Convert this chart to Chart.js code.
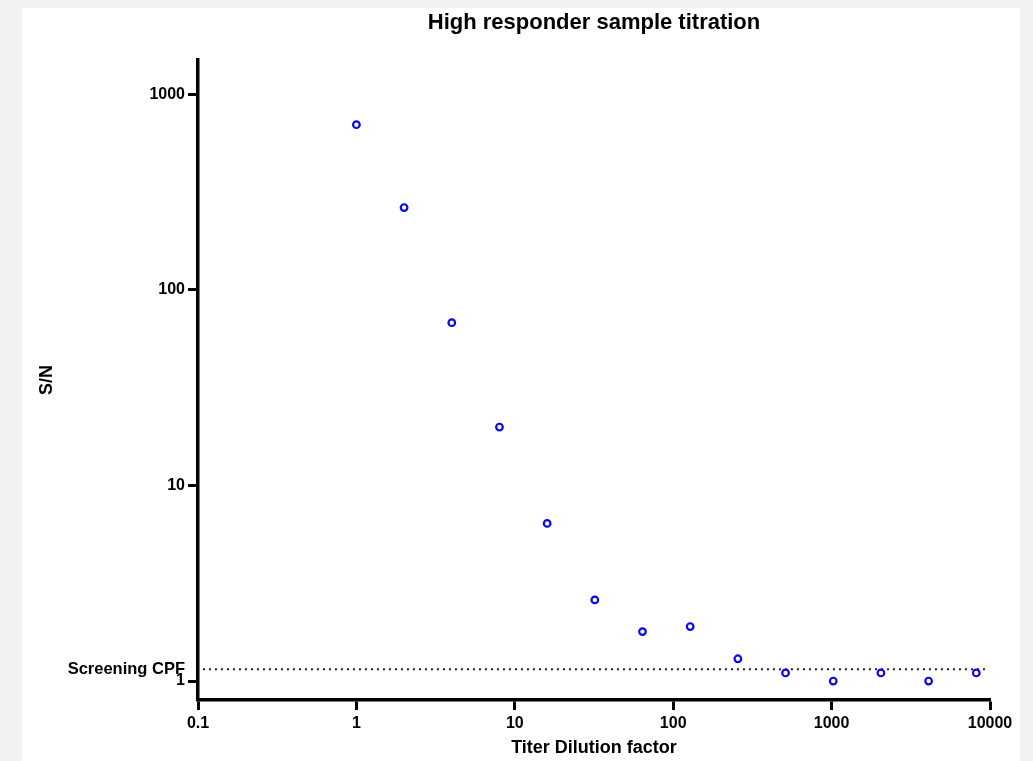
<!DOCTYPE html>
<html>
<head>
<meta charset="utf-8">
<script src="https://cdn.jsdelivr.net/npm/chart.js@4/dist/chart.umd.min.js"></script>
<style>
  html, body { margin: 0; padding: 0; background: #f2f2f2; }
  #wrap { width: 1033px; height: 761px; }
</style>
</head>
<body>
<div id="wrap"><canvas id="titrationChart" width="1033" height="761"></canvas></div>
<script>
// dilution factors and measured S/N
const dilutions = [1, 2, 4, 8, 16, 32, 64, 128, 256, 512, 1024, 2048, 4096, 8192];
const snValues = [700, 264, 68, 19.9, 6.4, 2.6, 1.79, 1.9, 1.3, 1.1, 1.0, 1.1, 1.0, 1.1];

// screening cut point and the span of its dotted line
const cpfValue = 1.15;
const cpfSpan = [0.1075, 9440];

const xTicks = [0.1, 1, 10, 100, 1000, 10000];
const yTicks = [1, 10, 100, 1000];

document.addEventListener('DOMContentLoaded', function () {
    const ctx = document.getElementById('titrationChart').getContext('2d');
    const fontFamily = '"Liberation Sans", Arial, Helvetica, sans-serif';

    const panelBackground = {
        id: 'panelBackground',
        beforeDraw: function (chart) {
            const c = chart.ctx;
            c.save();
            c.fillStyle = '#f2f2f2';
            c.fillRect(0, 0, chart.width, chart.height);
            c.fillStyle = '#ffffff';
            c.fillRect(22, 8, 998, chart.height - 8);
            c.restore();
        }
    };

    const cpfLabel = {
        id: 'cpfLabel',
        afterDraw: function (chart) {
            const c = chart.ctx;
            const y = chart.scales.y.getPixelForValue(cpfValue);
            c.save();
            c.font = 'bold 16.5px ' + fontFamily;
            c.fillStyle = '#000';
            c.textAlign = 'right';
            c.textBaseline = 'middle';
            c.fillText('Screening CPF', 185, y);
            c.restore();
        }
    };

    new Chart(ctx, {
        type: 'scatter',
        data: {
            datasets: [
                {
                    label: 'S/N',
                    data: dilutions.map(function (d, i) { return { x: d, y: snValues[i] }; }),
                    pointStyle: 'circle',
                    pointRadius: 3.3,
                    pointBorderWidth: 2.2,
                    borderColor: '#0808f0',
                    backgroundColor: '#ffffff'
                },
                {
                    label: 'Screening CPF',
                    type: 'line',
                    data: cpfSpan.map(function (x) { return { x: x, y: cpfValue }; }),
                    borderColor: '#222',
                    borderWidth: 2,
                    borderDash: [2, 4],
                    pointRadius: 0,
                    fill: false
                }
            ]
        },
        options: {
            responsive: false,
            animation: false,
            layout: {
                padding: { left: 22, right: 43, top: 0, bottom: 0 }
            },
            scales: {
                x: {
                    type: 'logarithmic',
                    min: 0.1,
                    max: 10000,
                    afterBuildTicks: function (scale) {
                        scale.ticks = xTicks.map(function (v) { return { value: v }; });
                    },
                    afterFit: function (scale) { scale.height = 61; },
                    border: { display: true, color: '#000', width: 3.5 },
                    grid: { drawOnChartArea: false, drawTicks: true, tickLength: 10, tickWidth: 3, tickColor: '#000' },
                    ticks: {
                        autoSkip: false,
                        maxRotation: 0,
                        padding: 4,
                        color: '#000',
                        font: { family: fontFamily, size: 16, weight: 'bold' },
                        callback: function (value) { return String(value); }
                    },
                    title: {
                        display: true,
                        text: 'Titer Dilution factor',
                        color: '#000',
                        padding: { top: 0, bottom: 2 },
                        font: { family: fontFamily, size: 18, weight: 'bold' }
                    }
                },
                y: {
                    type: 'logarithmic',
                    min: 0.8,
                    max: 1500,
                    afterBuildTicks: function (scale) {
                        scale.ticks = yTicks.map(function (v) { return { value: v }; });
                    },
                    afterFit: function (scale) { scale.width = 176; },
                    border: { display: true, color: '#000', width: 3.5 },
                    grid: { drawOnChartArea: false, drawTicks: true, tickLength: 10, tickWidth: 3, tickColor: '#000' },
                    ticks: {
                        autoSkip: false,
                        padding: 3,
                        color: '#000',
                        font: { family: fontFamily, size: 16, weight: 'bold' },
                        callback: function (value) { return String(value); }
                    },
                    title: {
                        display: true,
                        text: 'S/N',
                        color: '#000',
                        padding: { top: 14, bottom: 0 },
                        font: { family: fontFamily, size: 18, weight: 'bold' }
                    }
                }
            },
            plugins: {
                legend: { display: false },
                tooltip: { enabled: false },
                title: {
                    display: true,
                    fullSize: false,
                    text: 'High responder sample titration',
                    color: '#000',
                    padding: { top: 10, bottom: 23.6 },
                    font: { family: fontFamily, size: 22, weight: 'bold' }
                }
            }
        },
        plugins: [panelBackground, cpfLabel]
    });
});
</script>
</body>
</html>
